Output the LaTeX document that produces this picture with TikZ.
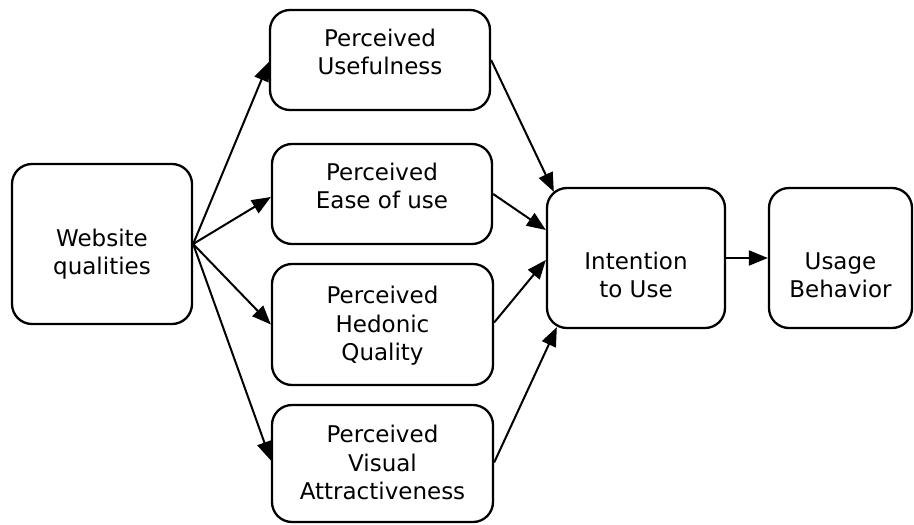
\documentclass[tikz,border=0pt]{standalone}
\usepackage{fontspec}
\setmainfont{DejaVu Sans}
\usetikzlibrary{arrows.meta}
\newcommand\boxtext[2]{\raisebox{#1}[\height][\depth]{\begin{tabular}{@{}c@{}}#2\end{tabular}}}
\begin{document}
\begin{tikzpicture}[x=1pt,y=-1pt,
  box/.style={draw, line width=2.3pt, rounded corners=20pt, align=center,
    inner sep=0pt, font=\fontsize{23}{29}\selectfont},
  conn/.style={line width=2pt, -{Triangle[length=19pt,width=15pt]}}]
\renewcommand\arraystretch{0.98}
\useasboundingbox (0,0) rectangle (914,525);
\node[box, minimum width=180pt, minimum height=160pt] (WQ) at (102,244) {\boxtext{-11pt}{Website\\qualities}};
\node[box, minimum width=220pt, minimum height=100pt] (PU) at (380,60) {\boxtext{5pt}{Perceived\\Usefulness}};
\node[box, minimum width=220pt, minimum height=100pt] (PE) at (382,194) {\boxtext{5pt}{Perceived\\Ease of use}};
\node[box, minimum width=221pt, minimum height=121pt] (PH) at (382.5,324.5) {\boxtext{-2pt}{Perceived\\Hedonic\\Quality}};
\node[box, minimum width=221pt, minimum height=117pt] (PV) at (382.5,463.5) {\boxtext{-2pt}{Perceived\\Visual\\Attractiveness}};
\node[box, minimum width=178pt, minimum height=140pt] (IU) at (636,258) {\boxtext{-20pt}{Intention\\to Use}};
\node[box, minimum width=143pt, minimum height=140pt] (UB) at (840.5,258) {\boxtext{-20pt}{Usage\\Behavior}};
\draw[conn] (WQ.east) -- ([yshift=-2pt]PU.west);
\draw[conn] (WQ.east) -- ([yshift=-3pt]PE.west);
\draw[conn] (WQ.east) -- (PH.west);
\draw[conn] (WQ.east) -- ([yshift=3pt]PV.west);
\draw[conn] (PU.east) -- ([xshift=8pt,yshift=-5pt]IU.north west);
\draw[conn] (PE.east) -- ([yshift=28pt]IU.west);
\draw[conn] ([yshift=2pt]PH.east) -- ([yshift=-2pt]IU.west);
\draw[conn] ([yshift=1pt]PV.east) -- ([xshift=11pt,yshift=2pt]IU.south west);
\draw[conn] (IU.east) -- (UB.west);
\end{tikzpicture}
\end{document}
